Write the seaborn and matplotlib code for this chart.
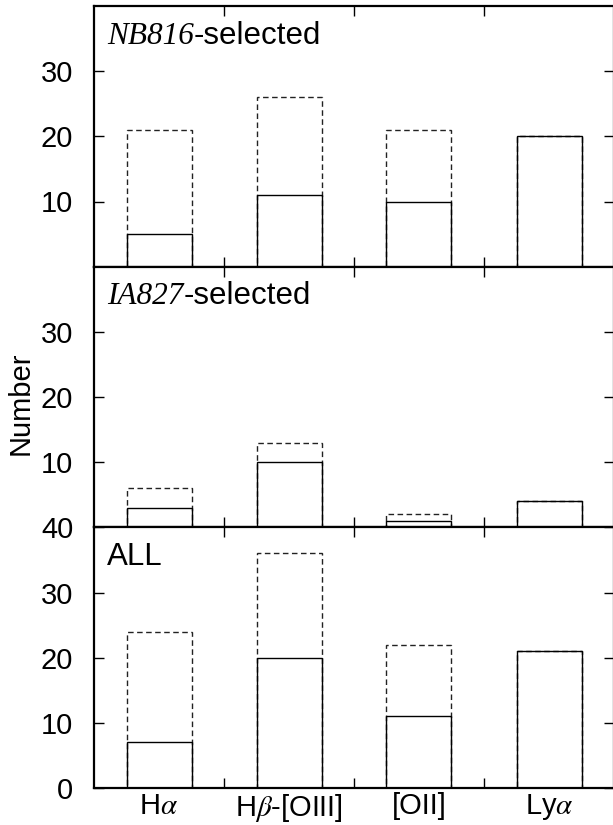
import matplotlib
matplotlib.use("Agg")
import matplotlib.pyplot as plt
from matplotlib.ticker import FixedLocator
import seaborn as sns

lines = ["H$\\alpha$", "H$\\beta$-[OIII]", "[OII]", "Ly$\\alpha$"]

# dashed = all candidates, solid = confirmed
nb816_all = [21, 26, 21, 20]
nb816_spec = [5, 11, 10, 20]
ia827_all = [6, 13, 2, 4]
ia827_spec = [3, 10, 1, 4]
tot_all = [24, 36, 22, 21]
tot_spec = [7, 20, 11, 21]

panel_names = ["NB816", "IA827", None]

sns.set_style("ticks")
plt.rcParams["font.family"] = ["Liberation Sans", "DejaVu Sans"]
plt.rcParams["mathtext.fontset"] = "stix"
for k in ["text.color", "axes.labelcolor", "xtick.color", "ytick.color", "axes.edgecolor"]:
    plt.rcParams[k] = "black"

FS = 21
FS_T = 22.5

fig, axes = plt.subplots(3, 1, sharex=True, figsize=(6.13, 8.25), dpi=100)
fig.subplots_adjust(left=94 / 613, right=614 / 613, top=1 - 6 / 825,
                    bottom=1 - 788 / 825, hspace=0)

panels = [(nb816_all, nb816_spec), (ia827_all, ia827_spec), (tot_all, tot_spec)]
for i, (ax, (alls, spec)) in enumerate(zip(axes, panels)):
    sns.barplot(x=lines, y=alls, ax=ax, fill=False, color="black", width=0.5,
                linewidth=1.0, linestyle=(0, (4, 2.5)), edgecolor="#222222",
                errorbar=None, zorder=2)
    sns.barplot(x=lines, y=spec, ax=ax, fill=False, color="black", width=0.5,
                linewidth=1.0, errorbar=None, zorder=3)
    ax.set_xlim(-0.5, 3.5)
    ax.set_ylim(0, 40)
    if i == 2:
        ax.set_yticks([0, 10, 20, 30, 40])
    else:
        ax.set_yticks([10, 20, 30])
    ax.yaxis.set_minor_locator(FixedLocator([]))
    ax.xaxis.set_minor_locator(FixedLocator([0.5, 1.5, 2.5]))
    ax.tick_params(axis="y", which="major", direction="in", length=7, width=1,
                   labelsize=FS, left=True, right=True, pad=15)
    ax.tick_params(axis="x", which="major", length=0, labelsize=FS, pad=3)
    ax.tick_params(axis="x", which="minor", direction="in", length=7, width=1,
                   top=True, bottom=True)
    for s in ax.spines.values():
        s.set_visible(True)
        s.set_linewidth(1.6)
    ax.set_ylabel("")
    if panel_names[i]:
        t = ax.text(0.025, 0.855, panel_names[i], transform=ax.transAxes, fontsize=FS_T,
                    family="Liberation Serif", style="italic", va="baseline")
        fig.canvas.draw()
        bb = t.get_window_extent().transformed(ax.transAxes.inverted())
        ax.text(bb.x1, 0.855, "-selected", transform=ax.transAxes, fontsize=FS_T,
                va="baseline")
    else:
        ax.text(0.025, 0.855, "ALL", transform=ax.transAxes, fontsize=FS_T,
                va="baseline")

fig.text(21 / 613, 1 - 403 / 825, "Number", rotation=90, fontsize=FS,
         va="center", ha="center")

fig.savefig("out.png", dpi=100)
